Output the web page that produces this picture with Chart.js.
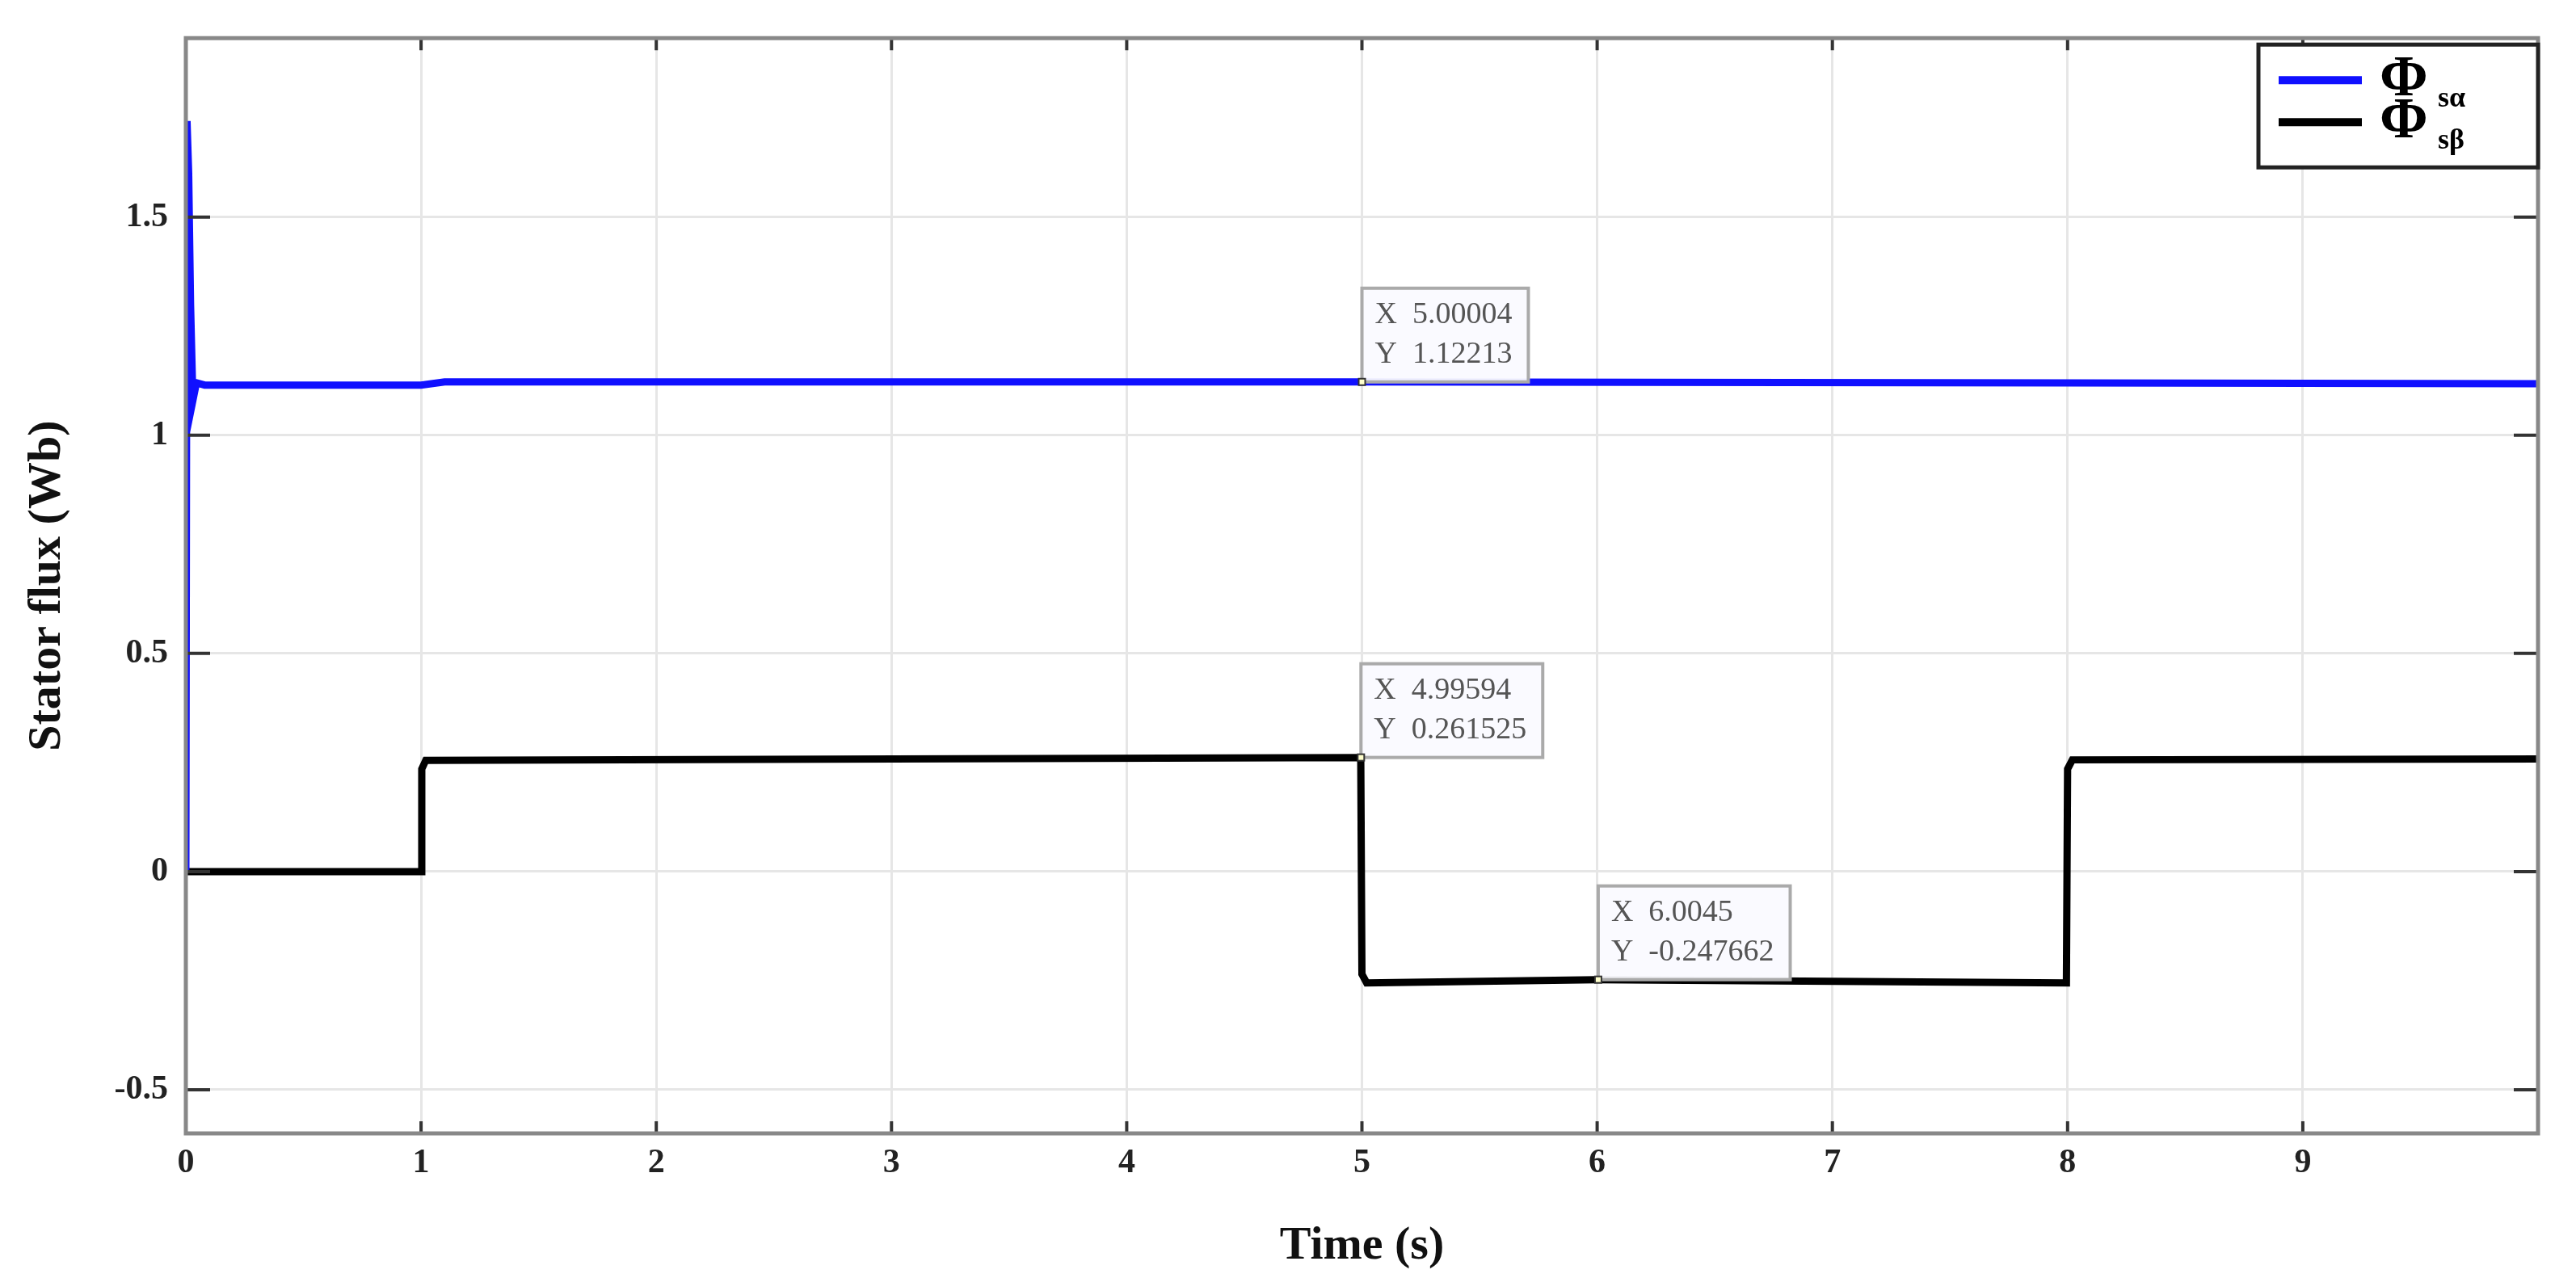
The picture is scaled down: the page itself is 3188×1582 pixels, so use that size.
<!DOCTYPE html>
<html><head><meta charset="utf-8">
<script src="https://cdn.jsdelivr.net/npm/chart.js@4.4.1/dist/chart.umd.min.js"></script>
<style>html,body{margin:0;padding:0;background:#fff}#w{width:3188px;height:1582px}</style>
</head><body><div id="w"><canvas id="c"></canvas></div>
<script>
const alphaT = [0, 0.005, 0.012, 0.02, 0.03, 0.045, 0.08, 1.0, 1.1, 5.0, 8.0, 10.0];
const alphaV = [0, 1.72, 1.60, 1.30, 1.08, 1.12, 1.115, 1.115, 1.122, 1.122, 1.12, 1.118];
const betaT = [0, 1.0, 1.003, 1.02, 4.995, 5.0, 5.02, 6.0, 7.995, 8.0, 8.02, 10.0];
const betaV = [0, 0, 0.235, 0.255, 0.2615, -0.235, -0.255, -0.2477, -0.255, 0.235, 0.256, 0.258];
const xTicks = [0,1,2,3,4,5,6,7,8,9];
const yTicks = [-0.5,0,0.5,1,1.5];
const tipX = [5.00004, 4.99594, 6.0045];
const tipY = [1.12213, 0.261525, -0.247662];
const tipLabelX = ["5.00004","4.99594","6.0045"];
const tipLabelY = ["1.12213","0.261525","-0.247662"];
const legendNames = ["sα","sβ"];
const serif = '"Liberation Serif","DejaVu Serif",serif';

const framePlugin = {
  id:'frame',
  afterDatasetsDraw(chart){
    const {ctx, chartArea:a, scales:{x,y}} = chart;
    ctx.save();
    ctx.strokeStyle='#333'; ctx.lineWidth=4;
    yTicks.forEach(v=>{const py=y.getPixelForValue(v);ctx.beginPath();ctx.moveTo(a.left,py);ctx.lineTo(a.left+30,py);ctx.moveTo(a.right,py);ctx.lineTo(a.right-30,py);ctx.stroke();});
    xTicks.forEach(v=>{const px=x.getPixelForValue(v);ctx.beginPath();ctx.moveTo(px,a.bottom);ctx.lineTo(px,a.bottom-15);ctx.moveTo(px,a.top);ctx.lineTo(px,a.top+15);ctx.stroke();});
    ctx.strokeStyle='#888'; ctx.lineWidth=5;
    ctx.strokeRect(a.left,a.top,a.right-a.left,a.bottom-a.top);
    ctx.font='38px '+serif; ctx.textBaseline='middle';
    tipX.forEach((tx,i)=>{
      const px=x.getPixelForValue(tx), py=y.getPixelForValue(tipY[i]);
      const l1='X  '+tipLabelX[i], l2='Y  '+tipLabelY[i];
      const w=Math.max(ctx.measureText(l1).width,ctx.measureText(l2).width)+36, h=116;
      ctx.fillStyle='rgba(250,250,255,0.95)'; ctx.fillRect(px,py-h,w,h);
      ctx.strokeStyle='#aaa'; ctx.lineWidth=4; ctx.strokeRect(px,py-h,w,h);
      ctx.fillStyle='#555'; ctx.fillText(l1,px+16,py-h+33); ctx.fillText(l2,px+16,py-h+82);
      ctx.fillStyle='#ffffcc'; ctx.strokeStyle='#333'; ctx.lineWidth=2;
      ctx.fillRect(px-4,py-4,8,8); ctx.strokeRect(px-4,py-4,8,8);
    });
    const lw=346, lh=152, lx=a.right-lw, ly=a.top+8;
    ctx.fillStyle='#fff'; ctx.fillRect(lx,ly,lw,lh);
    ctx.strokeStyle='#222'; ctx.lineWidth=5; ctx.strokeRect(lx,ly,lw,lh);
    const cols=['#1010ff','#000'];
    [0,1].forEach(i=>{
      const cy=ly+44+i*52;
      ctx.strokeStyle=cols[i]; ctx.lineWidth=10;
      ctx.beginPath(); ctx.moveTo(lx+25,cy); ctx.lineTo(lx+128,cy); ctx.stroke();
      ctx.fillStyle='#000'; ctx.font='bold 72px '+serif; ctx.fillText('Φ',lx+150,cy);
      ctx.font='bold 36px '+serif; ctx.fillText(legendNames[i],lx+222,cy+24);
    });
    ctx.restore();
  }
};

new Chart(document.getElementById('c'),{
  type:'line',
  data:{datasets:[
    {data:alphaT.map((t,i)=>({x:t,y:alphaV[i]})),borderColor:'#1010ff',borderWidth:9,pointRadius:0,tension:0},
    {data:betaT.map((t,i)=>({x:t,y:betaV[i]})),borderColor:'#000',borderWidth:9,pointRadius:0,tension:0}
  ]},
  options:{
    responsive:true,maintainAspectRatio:false,animation:false,devicePixelRatio:1,
    layout:{padding:{top:37,right:47,left:20,bottom:0}},
    plugins:{legend:{display:false},tooltip:{enabled:false}},
    scales:{
      x:{type:'linear',min:0,max:10,
        afterBuildTicks:s=>{s.ticks=xTicks.concat([10]).map(v=>({value:v}));},
        afterFit:s=>{s.height=179;},
        grid:{color:'#e6e6e6',lineWidth:3,drawTicks:false},border:{display:false},
        ticks:{padding:12,color:'#222',font:{family:serif,size:42,weight:'bold'},callback:v=>v===10?'':String(v)},
        title:{display:true,text:'Time (s)',color:'#111',padding:{top:0},font:{family:serif,size:58,weight:'bold'}}},
      y:{min:-0.6,max:1.91,
        afterBuildTicks:s=>{s.ticks=yTicks.map(v=>({value:v}));},
        afterFit:s=>{s.width=210;},
        grid:{color:'#e6e6e6',lineWidth:3,drawTicks:false},border:{display:false},
        ticks:{padding:22,color:'#222',font:{family:serif,size:42,weight:'bold'},callback:v=>String(v)},
        title:{display:true,text:'Stator flux (Wb)',color:'#111',padding:{bottom:4},font:{family:serif,size:58,weight:'bold'}}}
    }
  },
  plugins:[framePlugin]
});
</script></body></html>
